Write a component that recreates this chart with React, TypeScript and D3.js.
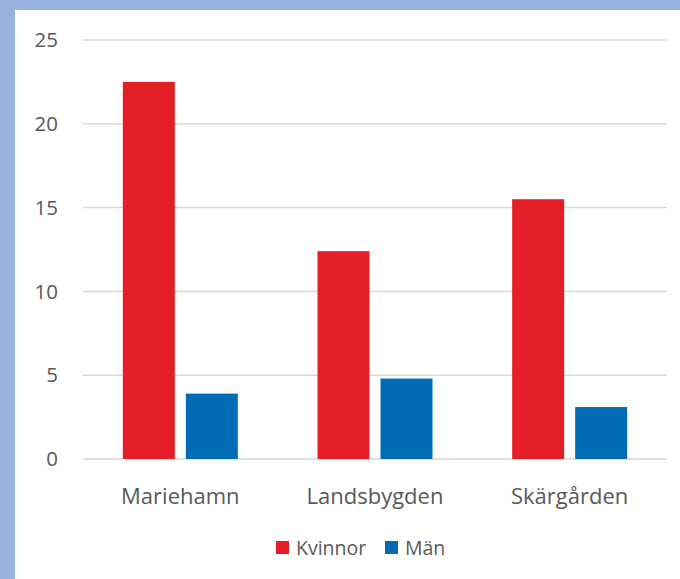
import React, { useEffect, useRef } from "react";
import * as d3 from "d3";

const categories = ["Mariehamn", "Landsbygden", "Skärgården"];
const seriesNames = ["Kvinnor", "Män"];
const kvinnor = [22.5, 12.4, 15.5];
const man = [3.9, 4.8, 3.1];
const yTicks = [0, 5, 10, 15, 20, 25];
const colors = ["#e31e26", "#006cb5"];

function App() {
  const ref = useRef<SVGSVGElement>(null);

  useEffect(() => {
    const svg = d3.select(ref.current);
    svg.selectAll("*").remove();
    const width = 680;
    const height = 579;
    const margin = { top: 40, right: 13, bottom: 120, left: 83 };
    const font = "'Open Sans', 'Noto Sans', sans-serif";

    // blue frame and white panel
    svg.append("rect").attr("width", width).attr("height", height).attr("fill", "#95b3dd");
    svg.append("rect").attr("x", 15).attr("y", 10).attr("width", width - 15).attr("height", height - 10).attr("fill", "#ffffff");

    const x = d3
      .scaleBand()
      .domain(categories)
      .range([margin.left, width - margin.right]);
    const inner = d3
      .scaleBand()
      .domain(seriesNames)
      .range([0, 115])
      .paddingInner(0.175);
    const y = d3
      .scaleLinear()
      .domain([0, 25])
      .range([height - margin.bottom, margin.top]);

    // gridlines
    svg
      .append("g")
      .selectAll("line")
      .data(yTicks)
      .join("line")
      .attr("x1", margin.left)
      .attr("x2", width - margin.right)
      .attr("y1", (d) => y(d))
      .attr("y2", (d) => y(d))
      .attr("stroke", "#d9d9d9")
      .attr("stroke-width", 1.5);

    svg
      .append("g")
      .selectAll("text")
      .data(yTicks)
      .join("text")
      .attr("x", 58)
      .attr("y", (d) => y(d))
      .attr("dy", "0.35em")
      .attr("text-anchor", "end")
      .attr("font-family", font)
      .attr("font-size", 20.5)
      .attr("fill", "#595959")
      .text((d) => d);

    const data = [kvinnor, man];
    const groups = svg
      .append("g")
      .selectAll("g")
      .data(categories)
      .join("g")
      .attr("transform", (d) => `translate(${x(d)! + x.bandwidth() / 2 - 57.5},0)`);

    groups
      .selectAll("rect")
      .data((d, i) => seriesNames.map((s, j) => ({ s, v: data[j][i], j })))
      .join("rect")
      .attr("x", (d) => inner(d.s)!)
      .attr("y", (d) => y(d.v))
      .attr("width", inner.bandwidth())
      .attr("height", (d) => y(0) - y(d.v))
      .attr("fill", (d) => colors[d.j]);

    svg
      .append("g")
      .selectAll("text")
      .data(categories)
      .join("text")
      .attr("x", (d) => x(d)! + x.bandwidth() / 2)
      .attr("y", 504)
      .attr("text-anchor", "middle")
      .attr("font-family", font)
      .attr("font-size", 22)
      .attr("fill", "#595959")
      .text((d) => d);

    // legend
    const legendX = [276, 385];
    const legend = svg
      .append("g")
      .selectAll("g")
      .data(seriesNames)
      .join("g")
      .attr("transform", (d, i) => `translate(${legendX[i]},541)`);
    legend
      .append("rect")
      .attr("width", 13)
      .attr("height", 13)
      .attr("fill", (d, i) => colors[i]);
    legend
      .append("text")
      .attr("x", 20)
      .attr("y", 7)
      .attr("dy", "0.35em")
      .attr("font-family", font)
      .attr("font-size", 19.5)
      .attr("fill", "#595959")
      .text((d) => d);
  }, []);

  return (
    <svg
      ref={ref}
      width={680}
      height={579}
      style={{ position: "absolute", left: 0, top: 0, display: "block" }}
    ></svg>
  );
}

export default App;
